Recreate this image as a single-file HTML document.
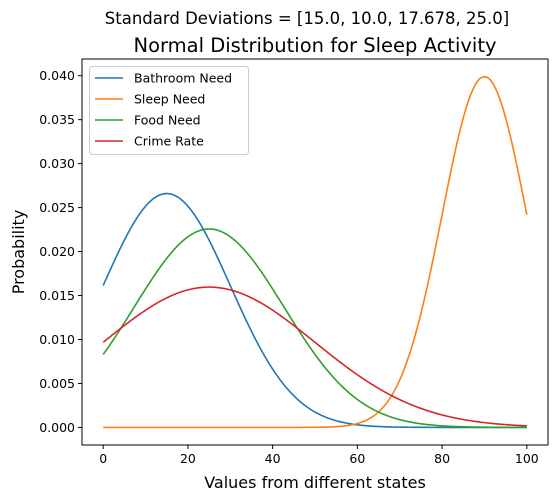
<!DOCTYPE html>
<html><head><meta charset="utf-8">
<style>
body{margin:0;background:#fff;}
svg{display:block;font-family:"DejaVu Sans","Liberation Sans",sans-serif;}
</style></head>
<body>
<svg id="chart" width="557" height="502">
  <text x="307" y="24" text-anchor="middle" font-size="16.5">Standard Deviations = [15.0, 10.0, 17.678, 25.0]</text>
  <text x="315" y="52" text-anchor="middle" font-size="19.5">Normal Distribution for Sleep Activity</text>
  <text x="0" y="0" transform="translate(24,252) rotate(-90)" text-anchor="middle" font-size="16">Probability</text>
  <text x="315" y="488" text-anchor="middle" font-size="16">Values from different states</text>
  <g id="plot"></g>
</svg>
<script>
const seriesNames = ["Bathroom Need","Sleep Need","Food Need","Crime Rate"];
const seriesMeans = [15, 90, 25, 25];
const seriesSds = [15.0, 10.0, 17.678, 25.0];
const xTicks = [0,20,40,60,80,100];
const yTicks = [0,0.005,0.010,0.015,0.020,0.025,0.030,0.035,0.040];
const colors = ["#1f77b4","#ff7f0e","#2ca02c","#d62728"];

const L=82,R=548,T=59,B=445;
const xmin=-5,xmax=105,ymin=-0.002,ymax=0.0419;
const xs=v=>L+(v-xmin)/(xmax-xmin)*(R-L);
const ys=v=>B-(v-ymin)/(ymax-ymin)*(B-T);
const NS="http://www.w3.org/2000/svg";
const g=document.getElementById('plot');
function mk(t,a,p){const e=document.createElementNS(NS,t);for(const k in a)e.setAttribute(k,a[k]);(p||g).appendChild(e);return e;}

xTicks.forEach(v=>{
  const l=mk('line',{x1:xs(v),x2:xs(v),y1:B,y2:B+4,stroke:'#000'});
  
  
  const t=mk('text',{x:xs(v),y:B+18,'text-anchor':'middle','font-size':'12.5'});
  t.textContent=v;
  
  
});
yTicks.forEach(v=>{
  const l=mk('line',{x1:L-4,x2:L,y1:ys(v),y2:ys(v),stroke:'#000'});
  
  
  const t=mk('text',{x:L-7,y:ys(v)+4.5,'text-anchor':'end','font-size':'12.5'});
  t.textContent=v.toFixed(3);
  
  
});

function pdf(x,m,s){return Math.exp(-0.5*((x-m)/s)**2)/(s*Math.sqrt(2*Math.PI));}
seriesNames.forEach((n,i)=>{
  let d='';
  for(let k=0;k<=400;k++){const x=k/4;d+=(k?'L':'M')+xs(x).toFixed(2)+','+ys(pdf(x,seriesMeans[i],seriesSds[i])).toFixed(2);}
  const p=mk('path',{d:d,fill:'none',stroke:colors[i],'stroke-width':'1.6'});
  
  
});

const frame=mk('rect',{x:L,y:T,width:R-L,height:B-T,fill:'none',stroke:'#000','stroke-width':'1'});



const lg=mk('g',{});


mk('rect',{x:89.5,y:66.5,width:159,height:88,rx:3,fill:'#fff','fill-opacity':'0.8',stroke:'#ccc'},lg);
seriesNames.forEach((n,i)=>{
  const y=78+i*21;
  const e=mk('g',{},lg);
  
  
  mk('line',{x1:95,x2:123,y1:y,y2:y,stroke:colors[i],'stroke-width':'1.6'},e);
  const t=mk('text',{x:134,y:y+4.5,'font-size':'12.5'},e);
  t.textContent=n;
});
</script>
</body></html>
